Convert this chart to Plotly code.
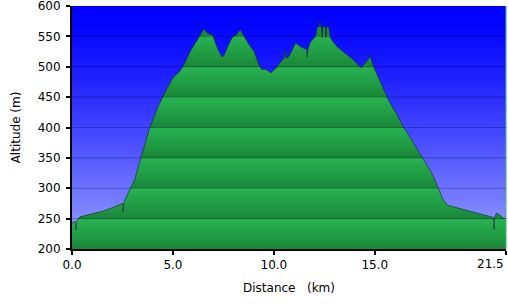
import plotly.graph_objects as go

# ---- data ----
distance_km = [0.00, 0.15, 0.20, 0.24, 0.39, 1.00, 1.50, 2.00, 2.50, 2.53, 2.57, 2.78, 3.10, 3.43,
               3.85, 4.26, 4.67, 5.03, 5.33, 5.49, 5.90, 6.15, 6.40, 6.53, 6.72, 6.97, 7.21, 7.43,
               7.54, 7.71, 7.95, 8.12, 8.33, 8.53, 8.78, 9.02, 9.27, 9.39, 9.60, 9.85, 10.09, 10.34,
               10.50, 10.56, 10.60, 10.75, 11.08, 11.33, 11.63, 11.65, 11.68, 11.82, 12.07, 12.15,
               12.25, 12.28, 12.31, 12.36, 12.40, 12.43, 12.55, 12.58, 12.61, 12.72, 12.80, 13.13,
               13.55, 13.95, 14.33, 14.78, 14.94, 15.19, 15.43, 15.68, 16.01, 16.42, 16.83, 17.32,
               17.82, 18.15, 18.39, 18.61, 18.97, 19.46, 19.96, 20.45, 20.78, 20.88, 20.91, 20.94,
               21.02, 21.19, 21.36, 21.50]
altitude_m = [243, 246, 231, 247, 253, 258, 262, 268, 275, 261, 277, 292, 314, 352,
              399, 434, 462, 483, 492, 500, 528, 541, 555, 562, 555, 552, 530, 516,
              519, 533, 549, 552, 561, 549, 536, 525, 503, 496, 496, 490, 497, 508,
              514, 527, 514, 517, 539, 533, 528, 516, 528, 541, 550, 565,
              566, 577, 566, 566, 548, 566, 566, 548, 566, 565, 547, 533,
              522, 511, 498, 517, 500, 481, 465, 445, 426, 401, 379, 352,
              325, 300, 281, 272, 269, 264, 260, 256, 253, 252, 232, 252,
              259, 256, 251, 250]

x_tickvals = [0, 5, 10, 15, 21.5]
x_ticktext = ["0.0", "5.0", "10.0", "15.0", "21.5"]
y_tickvals = [200, 250, 300, 350, 400, 450, 500, 550, 600]

Y_MIN, Y_MAX, STEP = 200, 600, 50
X_MAX = x_tickvals[-1]

# ---- banded green gradient for the fill ----
dark, mid, light = "#1b8539", "#1f9842", "#27b351"
nb = (Y_MAX - Y_MIN) // STEP
cs = []
eps = 0.0005
for k in range(nb):
    a = k / nb
    b = (k + 1) / nb
    cs.append([a + (eps if k > 0 else 0), dark])
    cs.append([a + 0.35 * (b - a), mid])
    cs.append([b - (eps if k < nb - 1 else 0), light])

fig = go.Figure()
fig.add_trace(go.Scatter(
    x=distance_km, y=altitude_m, mode="lines",
    line=dict(color="rgba(15,45,25,0.6)", width=1),
    fill="tozeroy",
    fillgradient=dict(type="vertical", colorscale=cs, start=Y_MIN, stop=Y_MAX),
    hoverinfo="skip", showlegend=False,
))

# ---- background blue gradient (styling) ----
shapes = []
n = 80
for i in range(n):
    t = (i + 0.5) / n  # 0 top -> 1 bottom
    f = t ** 1.3
    r = int(160 * f)
    g = int(168 * f)
    shapes.append(dict(type="rect", xref="x domain", yref="y domain",
                       x0=0, x1=1, y0=max(0, 1 - (i + 2) / n), y1=1 - i / n,
                       fillcolor=f"rgb({r},{g},255)", line=dict(width=0), layer="below"))
# gridlines above the fill
for yv in y_tickvals[1:-1]:
    shapes.append(dict(type="line", xref="x domain", yref="y", x0=0, x1=1, y0=yv, y1=yv,
                       line=dict(color="rgba(0,0,40,0.28)", width=1), layer="above"))
# right edge line
shapes.append(dict(type="line", xref="x domain", yref="y domain", x0=1, x1=1, y0=0, y1=1,
                   line=dict(color="#3cb878", width=1), layer="above"))

font = dict(family="DejaVu Sans, Verdana, sans-serif", size=12, color="#000000")

# last x tick label is right-aligned to its tick so it stays inside the picture
shown_ticktext = x_ticktext[:-1] + [""]
annotations = [dict(text=x_ticktext[-1], x=X_MAX, xref="x", y=0, yref="paper",
                    xanchor="right", yanchor="top", yshift=-6, showarrow=False,
                    font=font)]

fig.update_layout(
    width=508, height=304,
    margin=dict(l=72, r=2, t=6, b=55, autoexpand=False),
    paper_bgcolor="white", plot_bgcolor="white",
    font=font,
    shapes=shapes,
    annotations=annotations,
    xaxis=dict(range=[0, X_MAX], tickvals=x_tickvals, ticktext=shown_ticktext,
               showgrid=False, zeroline=False, showline=True, linecolor="black", linewidth=2,
               ticks="outside", ticklen=4, tickwidth=2, tickcolor="black",
               ticklabeloverflow="allow", automargin=False,
               title=dict(text="Distance\u00a0\u00a0\u00a0(km)", font=font, standoff=12)),
    yaxis=dict(range=[Y_MIN, Y_MAX], tickvals=y_tickvals,
               showgrid=False, zeroline=False, showline=True, linecolor="black", linewidth=2,
               ticks="outside", ticklen=4, tickwidth=2, tickcolor="black",
               ticklabelstandoff=3, ticklabeloverflow="allow", automargin=False,
               title=dict(text="Altitude (m)", font=font, standoff=14)),
)

fig.write_html("out.html")
